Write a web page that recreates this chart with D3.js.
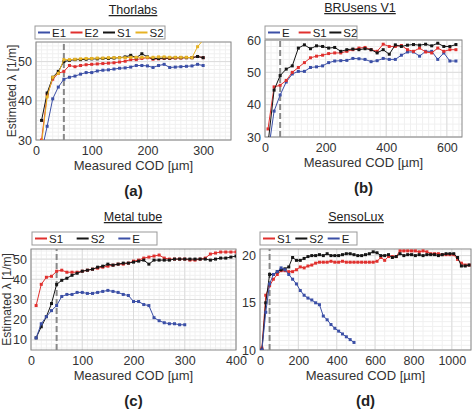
<!DOCTYPE html>
<html><head><meta charset="utf-8">
<script src="https://cdn.jsdelivr.net/npm/d3@7"></script>
<style>body{margin:0;background:#fff;font-family:"Liberation Sans",Arial,sans-serif}</style>
</head><body><div id="chart"></div>
<script>
const blue = "#3b4fa6", red = "#e0302e", black = "#151515", yellow = "#e6b224";

// panel (a) Thorlabs, x = 10..300 step 10
const xA = d3.range(10, 301, 10);
const aE1 = [27,33.5,40.5,43.5,45.5,46,46.3,46.8,47.2,47.2,47.6,47.8,47.9,48.1,48.3,48.4,48.6,49,49,48.9,48.5,49,49.3,48.5,48.6,48.7,48.8,48.9,49.3,49];
const aE2 = [30,41.5,45.5,47,47.5,49,48.7,49,49.2,49.3,49.4,49.5,49.6,49.7,49.9,50.1,50.5,50.5,50.8,51,50.6,50.7,50.8,50.8,50.9,50.9,51,51,51.3,51];
const aS1 = [35,42,46,47.5,50,50.3,50.5,50.5,50.6,50.7,50.7,50.8,50.8,50.9,51,51.2,51.6,51,52,51.2,50.8,50.8,50.9,50.9,51,51,51,51,51.3,51];
const aS2 = [29,41,46,47,50.5,50.5,50.6,50.7,50.8,50.8,50.9,50.9,51,51,51,51,51.1,51.1,51.1,51.1,51.1,51.2,51.2,51.1,51.1,51.1,51.1,51,53.8,55.5];

// panel (b) BRUsens V1, x = 10..630 step 20
const xB = d3.range(10, 631, 20);
const bE = [25,38,43,47,49.5,50.3,50.3,51.5,51.7,52,53,53.5,53.6,53.7,54.3,54.2,54,53.3,53.6,54.3,54,54,55.3,56.3,56.3,55,56.5,56.5,54,56,53.5,53.5];
const bS1 = [32.5,45.5,46,47.5,50,51.5,53,54.5,55,55.3,55.8,56,56,56.5,57,57.5,57.7,57,56.5,58.7,58,58,58.3,57,56.5,57.5,56.3,56,57.5,56.5,57,57];
const bS2 = [28,44.5,49,51,52,57.5,58.5,57.3,58.2,58,57.5,57.7,56.5,57,57.2,57,57.3,57,56,57,55.6,58.5,58,58.4,58.6,58.4,58.7,58.2,59,58,58,58.6];

// panel (c) Metal tube, x = 10..400 step 10 (E to 300)
const xC = d3.range(10, 401, 10);
const cS1 = [27,37.5,41,41.5,44,44.5,43.5,43.5,43.5,44,44.5,45,45.5,46,46.5,47,47.5,47.5,48,49,49.5,50.5,51,51.5,52,50.5,50,50,50,50,49.5,49.5,50,50.5,52.5,53,53.5,53.5,53.5,53.5];
const cS2 = [11,16.5,21.5,28,37.5,39.5,40.5,42,43,44,44.5,45,46,46.5,47.5,47,47.5,48,48,48.5,49,49.5,47.5,49.5,49.5,49.5,49.5,50,50,50,50,50,50,50,49.5,50,50.5,50.5,51,51.5];
const cE = [11,18,21.5,24.5,27,31.5,32.5,32.5,33.5,33.5,33,33,33.5,34,34.5,34,33.5,32.5,32,29,29,27.5,27,21,19.5,18.5,18,18,17.5,17.5];

// panel (d) SensoLux, x = 10..1090 step 20 (E to 490)
const xD = d3.range(10, 1091, 20);
const dS1 = [10.2,15.8,16.8,17.5,18,18.4,18.4,18.3,18.3,18.5,18.8,18.7,18.9,19,19.2,19.3,19.3,19.3,19.4,19.3,19.3,19.4,19.3,19.3,19.3,19.3,19.3,19.3,19.3,19.3,19.4,19.8,19.5,19.9,19.9,19.9,20.5,20.5,20.5,20.5,20.5,20.4,20.5,20.4,20.2,20.2,20.2,20.1,20.1,20.1,20.1,19.6,19.2,19,19,18.8];
const dS2 = [10,15,18,18,18.3,18.5,18.6,18.8,19.8,19.5,19.5,19.7,19.9,20,20,20.1,20,20.2,20,20,20,20.1,20.2,20.2,20.1,20,20,20.1,20.2,20.4,20.3,20,20,20.1,19.8,19.9,20.2,20,20.1,20.1,20,20.1,20,20.1,20.1,20.1,20,20.1,20.2,20.2,20.2,19.8,18.9,18.9,19,19.1];
const dE = [10,14,17,18,18.3,18.7,18.5,18,17.5,17,16.3,15.8,15.5,15.3,15,14.8,13.6,13.2,12.7,12.3,12,11.7,11.4,11.1,10.8];

const svg = d3.select("#chart").append("svg").attr("width", 474).attr("height", 414);

function panel(p) {
    const g = svg.append("g");
    const x = d3.scaleLinear().domain(p.xd).range(p.xr);
    const y = d3.scaleLinear().domain(p.yd).range(p.yr);
    const clipId = "clip" + p.tag.replace(/\W/g, "");
    g.append("clipPath").attr("id", clipId).append("rect")
        .attr("x", p.xr[0]).attr("y", p.yr[1]).attr("width", p.xr[1] - p.xr[0]).attr("height", p.yr[0] - p.yr[1]);

    // minor + major grid
    const minor = d3.ticks(p.xd[0], p.xd[1], 30), minorY = d3.ticks(p.yd[0], p.yd[1], 20);
    g.append("g").selectAll("line").data(minor).join("line")
        .attr("x1", x).attr("x2", x).attr("y1", p.yr[0]).attr("y2", p.yr[1]).attr("stroke", "#f0f0f0");
    g.append("g").selectAll("line").data(minorY).join("line")
        .attr("y1", y).attr("y2", y).attr("x1", p.xr[0]).attr("x2", p.xr[1]).attr("stroke", "#f0f0f0");
    g.append("g").selectAll("line").data(p.xt).join("line")
        .attr("x1", x).attr("x2", x).attr("y1", p.yr[0]).attr("y2", p.yr[1]).attr("stroke", "#dcdcdc");
    g.append("g").selectAll("line").data(p.yt).join("line")
        .attr("y1", y).attr("y2", y).attr("x1", p.xr[0]).attr("x2", p.xr[1]).attr("stroke", "#dcdcdc");

    g.append("rect").attr("x", p.xr[0]).attr("y", p.yr[1]).attr("width", p.xr[1] - p.xr[0])
        .attr("height", p.yr[0] - p.yr[1]).attr("fill", "none").attr("stroke", "#888");

    g.append("line").attr("x1", x(50)).attr("x2", x(50)).attr("y1", p.yr[0]).attr("y2", p.yr[1])
        .attr("stroke", "#888").attr("stroke-width", 2).attr("stroke-dasharray", "6,3");

    const plot = g.append("g").attr("clip-path", `url(#${clipId})`);
    p.series.forEach(s => {
        const pts = s.v.map((v, i) => [s.x[i], v]);
        plot.append("path").datum(pts).attr("fill", "none").attr("stroke", s.c).attr("stroke-width", 1)
            .attr("d", d3.line().x(d => x(d[0])).y(d => y(d[1])));
        plot.append("g").selectAll("rect").data(pts).join("rect")
            .attr("x", d => x(d[0]) - 1.5).attr("y", d => y(d[1]) - 1.5)
            .attr("width", 3).attr("height", 3).attr("fill", s.c);
    });

    const fs = "12.5px";
    g.append("g").attr("transform", `translate(0,${p.yr[0]})`)
        .call(d3.axisBottom(x).tickValues(p.xt).tickFormat(d3.format("d")).tickSize(0).tickPadding(6))
        .call(a => a.select(".domain").remove())
        .selectAll("text").attr("font-size", fs).attr("fill", "#333").attr("font-family", "Liberation Sans");
    g.append("g").attr("transform", `translate(${p.xr[0]},0)`)
        .call(d3.axisLeft(y).tickValues(p.yt).tickSize(0).tickPadding(4))
        .call(a => a.select(".domain").remove())
        .selectAll("text").attr("font-size", fs).attr("fill", "#333").attr("font-family", "Liberation Sans");

    const cx = (p.xr[0] + p.xr[1]) / 2;
    g.append("text").attr("x", p.titleX).attr("y", p.yr[1] - 28).attr("text-anchor", "middle")
        .attr("font-size", "12.5px").attr("text-decoration", "underline").attr("fill", "#222").text(p.title);
    g.append("text").attr("x", cx).attr("y", p.yr[0] + 30).attr("text-anchor", "middle")
        .attr("font-size", "13px").attr("fill", "#333").text("Measured COD [µm]");
    g.append("text").attr("x", cx).attr("y", p.yr[0] + 56).attr("text-anchor", "middle")
        .attr("font-size", "15px").attr("font-weight", "bold").attr("fill", "#222").text(p.tag);
    if (p.ylab) {
        g.append("text").attr("transform", `translate(${p.xr[0] - 20},${(p.yr[0] + p.yr[1]) / 2}) rotate(-90)`)
            .attr("text-anchor", "middle").attr("font-size", "12px").attr("fill", "#333").text("Estimated λ [1/m]");
    }

    // legend
    const lg = g.append("g").attr("transform", `translate(${p.leg[0]},${p.leg[1]})`);
    lg.append("rect").attr("width", p.leg[2]).attr("height", 13).attr("fill", "#fff").attr("stroke", "#999");
    const step = p.leg[2] / p.series.length;
    p.series.forEach((s, i) => {
        lg.append("line").attr("x1", i * step + 3).attr("x2", i * step + 15).attr("y1", 6.5).attr("y2", 6.5)
            .attr("stroke", s.c).attr("stroke-width", 2);
        lg.append("text").attr("x", i * step + 17).attr("y", 11).attr("font-size", "11.5px")
            .attr("fill", "#222").text(s.n);
    });
}

panel({tag: "(a)", title: "Thorlabs", titleX: 133, ylab: true, xd: [0, 350], xr: [36, 231], yd: [30, 55], yr: [140, 42],
    xt: [0, 100, 200, 300], yt: [30, 40, 50], leg: [35, 26, 130],
    series: [{n: "E1", c: blue, x: xA, v: aE1}, {n: "E2", c: red, x: xA, v: aE2},
             {n: "S1", c: black, x: xA, v: aS1}, {n: "S2", c: yellow, x: xA, v: aS2}]});
panel({tag: "(b)", title: "BRUsens V1", titleX: 360, ylab: false, xd: [0, 650], xr: [265, 462], yd: [30, 60], yr: [137, 40],
    xt: [0, 200, 400, 600], yt: [30, 40, 50, 60], leg: [265, 26, 92],
    series: [{n: "E", c: blue, x: xB, v: bE}, {n: "S1", c: red, x: xB, v: bS1}, {n: "S2", c: black, x: xB, v: bS2}]});
panel({tag: "(c)", title: "Metal tube", titleX: 133, ylab: true, xd: [0, 400], xr: [31, 236], yd: [5, 55], yr: [350, 249],
    xt: [0, 100, 200, 300, 400], yt: [10, 20, 30, 40, 50], leg: [32, 232, 125],
    series: [{n: "S1", c: red, x: xC, v: cS1}, {n: "S2", c: black, x: xC, v: cS2}, {n: "E", c: blue, x: xC, v: cE}]});
panel({tag: "(d)", title: "SensoLux", titleX: 356, ylab: false, xd: [0, 1100], xr: [260, 471], yd: [10, 20.7], yr: [350, 249],
    xt: [0, 200, 400, 600, 800, 1000], yt: [10, 15, 20], leg: [260, 232, 97],
    series: [{n: "S1", c: red, x: xD, v: dS1}, {n: "S2", c: black, x: xD, v: dS2}, {n: "E", c: blue, x: xD, v: dE}]});
</script></body></html>
